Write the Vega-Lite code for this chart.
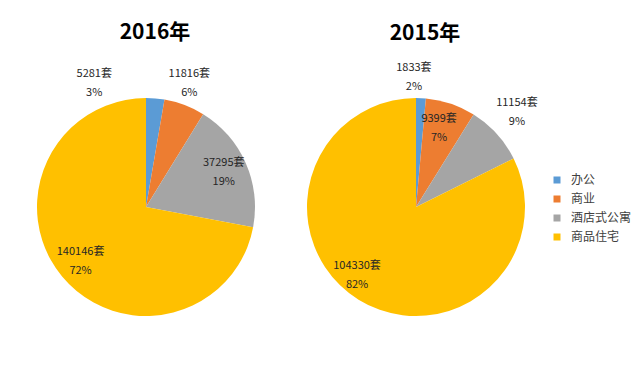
{
  "$schema": "https://vega.github.io/schema/vega-lite/v6.json",
  "padding": {"left": 36, "top": 21, "right": 0, "bottom": 0},
  "data": {"values": [
    {"year": "2016年", "type": "办公", "count": 5281, "pct": 3},
    {"year": "2016年", "type": "商业", "count": 11816, "pct": 6},
    {"year": "2016年", "type": "酒店式公寓", "count": 37295, "pct": 19},
    {"year": "2016年", "type": "商品住宅", "count": 140146, "pct": 72},
    {"year": "2015年", "type": "办公", "count": 1833, "pct": 2},
    {"year": "2015年", "type": "商业", "count": 9399, "pct": 7},
    {"year": "2015年", "type": "酒店式公寓", "count": 11154, "pct": 9},
    {"year": "2015年", "type": "商品住宅", "count": 104330, "pct": 82}
  ]},
  "transform": [
    {"calculate": "indexof(['办公','商业','酒店式公寓','商品住宅'], datum.type)", "as": "k"},
    {"calculate": "datum.count + '套\\n' + datum.pct + '%'", "as": "label"}
  ],
  "spacing": 50,
  "hconcat": [
    {
      "title": {"text": "2016年", "fontSize": 21, "fontWeight": "bold", "font": "Noto Sans CJK SC", "color": "#000000", "dx": 9, "offset": 25},
      "width": 220, "height": 220,
      "transform": [
        {"filter": "datum.year == '2016年'"},
        {"stack": "count", "groupby": [], "offset": "normalize", "sort": [{"field": "k", "order": "ascending"}], "as": ["t0", "t1"]},
        {"calculate": "(datum.t0 + datum.t1) / 2", "as": "tm"}
      ],
      "layer": [
        {"mark": {"type": "arc", "outerRadius": 109},
         "encoding": {
           "theta": {"field": "t0", "type": "quantitative", "scale": {"domain": [0, 1]}},
           "theta2": {"field": "t1"},
           "color": {"field": "type", "type": "nominal",
             "scale": {"domain": ["办公", "商业", "酒店式公寓", "商品住宅"], "range": ["#5B9BD5", "#ED7D31", "#A5A5A5", "#FFC000"]},
             "legend": {"title": null}}}},
        {"transform": [{"filter": "datum.k >= 2"}],
         "mark": {"type": "text", "radius": 85, "dy": -9.5, "lineBreak": "\n", "lineHeight": 19, "fontSize": 11, "font": "Noto Sans CJK SC", "color": "#262626"},
         "encoding": {"theta": {"field": "tm", "type": "quantitative", "scale": {"domain": [0, 1]}}, "text": {"field": "label"}}},
        {"transform": [{"filter": "datum.k == 1"}],
         "mark": {"type": "text", "radius": 131, "dx": -3, "dy": -10.5, "lineBreak": "\n", "lineHeight": 19, "fontSize": 11, "font": "Noto Sans CJK SC", "color": "#262626"},
         "encoding": {"theta": {"field": "tm", "type": "quantitative", "scale": {"domain": [0, 1]}}, "text": {"field": "label"}}},
        {"transform": [{"filter": "datum.k == 0"}],
         "mark": {"type": "text", "radius": 132, "dx": -63, "dy": -1, "lineBreak": "\n", "lineHeight": 19, "fontSize": 11, "font": "Noto Sans CJK SC", "color": "#262626"},
         "encoding": {"theta": {"field": "tm", "type": "quantitative", "scale": {"domain": [0, 1]}}, "text": {"field": "label"}}}
      ]
    },
    {
      "title": {"text": "2015年", "fontSize": 21, "fontWeight": "bold", "font": "Noto Sans CJK SC", "color": "#000000", "dx": 9, "offset": 18},
      "width": 220, "height": 220,
      "transform": [
        {"filter": "datum.year == '2015年'"},
        {"stack": "count", "groupby": [], "offset": "normalize", "sort": [{"field": "k", "order": "ascending"}], "as": ["t0", "t1"]},
        {"calculate": "(datum.t0 + datum.t1) / 2", "as": "tm"}
      ],
      "layer": [
        {"mark": {"type": "arc", "outerRadius": 109},
         "encoding": {
           "theta": {"field": "t0", "type": "quantitative", "scale": {"domain": [0, 1]}},
           "theta2": {"field": "t1"},
           "color": {"field": "type", "type": "nominal",
             "scale": {"domain": ["办公", "商业", "酒店式公寓", "商品住宅"], "range": ["#5B9BD5", "#ED7D31", "#A5A5A5", "#FFC000"]},
             "legend": {"title": null}}}},
        {"transform": [{"filter": "datum.k == 1"}],
         "mark": {"type": "text", "radius": 82, "dx": -3, "dy": -10.5, "lineBreak": "\n", "lineHeight": 19, "fontSize": 11, "font": "Noto Sans CJK SC", "color": "#262626"},
         "encoding": {"theta": {"field": "tm", "type": "quantitative", "scale": {"domain": [0, 1]}}, "text": {"field": "label"}}},
        {"transform": [{"filter": "datum.k == 3"}],
         "mark": {"type": "text", "radius": 91, "dx": -11, "dy": -18.5, "lineBreak": "\n", "lineHeight": 19, "fontSize": 11, "font": "Noto Sans CJK SC", "color": "#262626"},
         "encoding": {"theta": {"field": "tm", "type": "quantitative", "scale": {"domain": [0, 1]}}, "text": {"field": "label"}}},
        {"transform": [{"filter": "datum.k == 0"}],
         "mark": {"type": "text", "radius": 130, "dx": -8, "dy": -9.5, "lineBreak": "\n", "lineHeight": 19, "fontSize": 11, "font": "Noto Sans CJK SC", "color": "#262626"},
         "encoding": {"theta": {"field": "tm", "type": "quantitative", "scale": {"domain": [0, 1]}}, "text": {"field": "label"}}},
        {"transform": [{"filter": "datum.k == 2"}],
         "mark": {"type": "text", "radius": 139, "dx": -2, "dy": -10.5, "lineBreak": "\n", "lineHeight": 19, "fontSize": 11, "font": "Noto Sans CJK SC", "color": "#262626"},
         "encoding": {"theta": {"field": "tm", "type": "quantitative", "scale": {"domain": [0, 1]}}, "text": {"field": "label"}}}
      ]
    }
  ],
  "config": {
    "view": {"stroke": null},
    "legend": {
      "orient": "none", "legendX": 515, "legendY": 77,
      "symbolType": "square", "symbolSize": 49, "symbolStrokeWidth": 0,
      "labelFontSize": 12, "labelFont": "Noto Sans CJK SC", "labelColor": "#404040",
      "labelOffset": 8, "rowPadding": 7
    }
  }
}
